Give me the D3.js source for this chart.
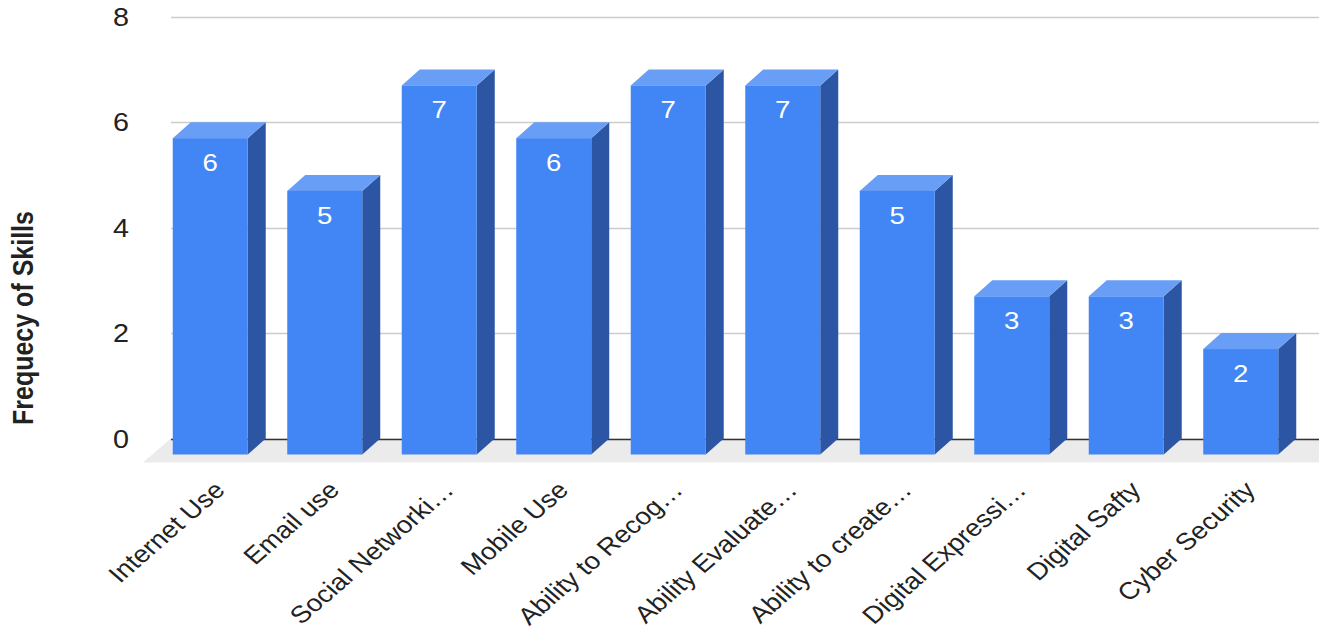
<!DOCTYPE html>
<html>
<head>
<meta charset="utf-8">
<script src="https://cdn.jsdelivr.net/npm/d3@7"></script>
<style>
  html, body { margin: 0; padding: 0; background: #fff; }
  svg { display: block; font-family: "Liberation Sans", Arial, sans-serif; }
</style>
</head>
<body>
<svg id="chart" width="1319" height="631"></svg>
<script>
// Skill categories (labels as shown on the axis, long names truncated)
const categories = [
  "Internet Use",
  "Email use",
  "Social Networki\u2026",
  "Mobile Use",
  "Ability to Recog\u2026",
  "Ability Evaluate\u2026",
  "Ability to create\u2026",
  "Digital Expressi\u2026",
  "Digital Safty",
  "Cyber Security"
];
// Frequency of each skill
const values = [6, 5, 7, 6, 7, 7, 5, 3, 3, 2];
// Y axis ticks
const yTicks = [0, 2, 4, 6, 8];
const yTitle = "Frequecy of Skills";

const W = 1319, H = 631;
const svg = d3.select("#chart");

// text is drawn slightly wider than tall
const sx = 1.15;

// back plane of the 3D box
const x = d3.scaleBand()
  .domain(categories)
  .range([171, 1316])
  .paddingInner(0.345)
  .paddingOuter(0.1725);
const y = d3.scaleLinear().domain([0, 8]).range([438.5, 16.7]);

// 3D extrusion offset (front face is shifted left/down from the back plane)
const dx = 18, dy = 16;
const floorDx = 28, floorDy = 24;

const colFront = "#4285f4";
const colTop = "#689ef6";
const colSide = "#2c56a3";

// floor
const y0 = y(0);
svg.append("path")
  .attr("d", `M${171},${y0} L${1319 + floorDx},${y0} L${1319},${y0 + floorDy} L${171 - floorDx},${y0 + floorDy} Z`)
  .attr("fill", "#ebebeb");

// gridlines
svg.append("g")
  .selectAll("line")
  .data(yTicks)
  .join("line")
  .attr("x1", 171).attr("x2", W)
  .attr("y1", d => Math.round(y(d)) + 0.5)
  .attr("y2", d => Math.round(y(d)) + 0.5)
  .attr("stroke", d => d === 0 ? "#333" : "#cccccc")
  .attr("stroke-width", 1.5);

// y tick labels
svg.append("g")
  .selectAll("text")
  .data(yTicks)
  .join("text")
  .attr("transform", d => `translate(129,${y(d)}) scale(${sx},1)`)
  .attr("dy", "0.36em")
  .attr("text-anchor", "end")
  .attr("font-size", 25)
  .attr("fill", "#222")
  .text(d => d);

// y axis title
svg.append("text")
  .attr("transform", `translate(33,${318}) scale(${sx},1) rotate(-90)`)
  .attr("text-anchor", "middle")
  .attr("font-size", 25)
  .attr("font-weight", "bold")
  .attr("fill", "#222")
  .text(yTitle);

// bars
const bars = svg.append("g")
  .selectAll("g")
  .data(categories.map((c, i) => ({ c, v: values[i] })))
  .join("g");

bars.each(function (d) {
  const g = d3.select(this);
  const bx0 = x(d.c), bx1 = x(d.c) + x.bandwidth();
  const by0 = y(d.v), by1 = y(0);
  // side face
  g.append("path")
    .attr("d", `M${bx1 - dx},${by0 + dy} L${bx1},${by0} L${bx1},${by1} L${bx1 - dx},${by1 + dy} Z`)
    .attr("fill", colSide);
  // top face
  g.append("path")
    .attr("d", `M${bx0 - dx},${by0 + dy} L${bx0},${by0} L${bx1},${by0} L${bx1 - dx},${by0 + dy} Z`)
    .attr("fill", colTop);
  // front face
  g.append("rect")
    .attr("x", bx0 - dx).attr("y", by0 + dy)
    .attr("width", x.bandwidth()).attr("height", by1 - by0)
    .attr("fill", colFront);
  // value label
  g.append("text")
    .attr("transform", `translate(${bx0 - dx + x.bandwidth() / 2},${by0 + dy + 24}) scale(${sx},1)`)
    .attr("dy", "0.36em")
    .attr("text-anchor", "middle")
    .attr("font-size", 24)
    .attr("fill", "#fff")
    .text(d.v);
});

// x axis labels, rotated
svg.append("g")
  .selectAll("text")
  .data(categories)
  .join("text")
  .attr("transform", d => `translate(${x(d) + x.bandwidth() / 2 - 2},${y0 + 53}) scale(${sx},1) rotate(-45)`)
  .attr("text-anchor", "end")
  .attr("font-size", 24)
  .attr("fill", "#222")
  .text(d => d);
</script>
</body>
</html>
